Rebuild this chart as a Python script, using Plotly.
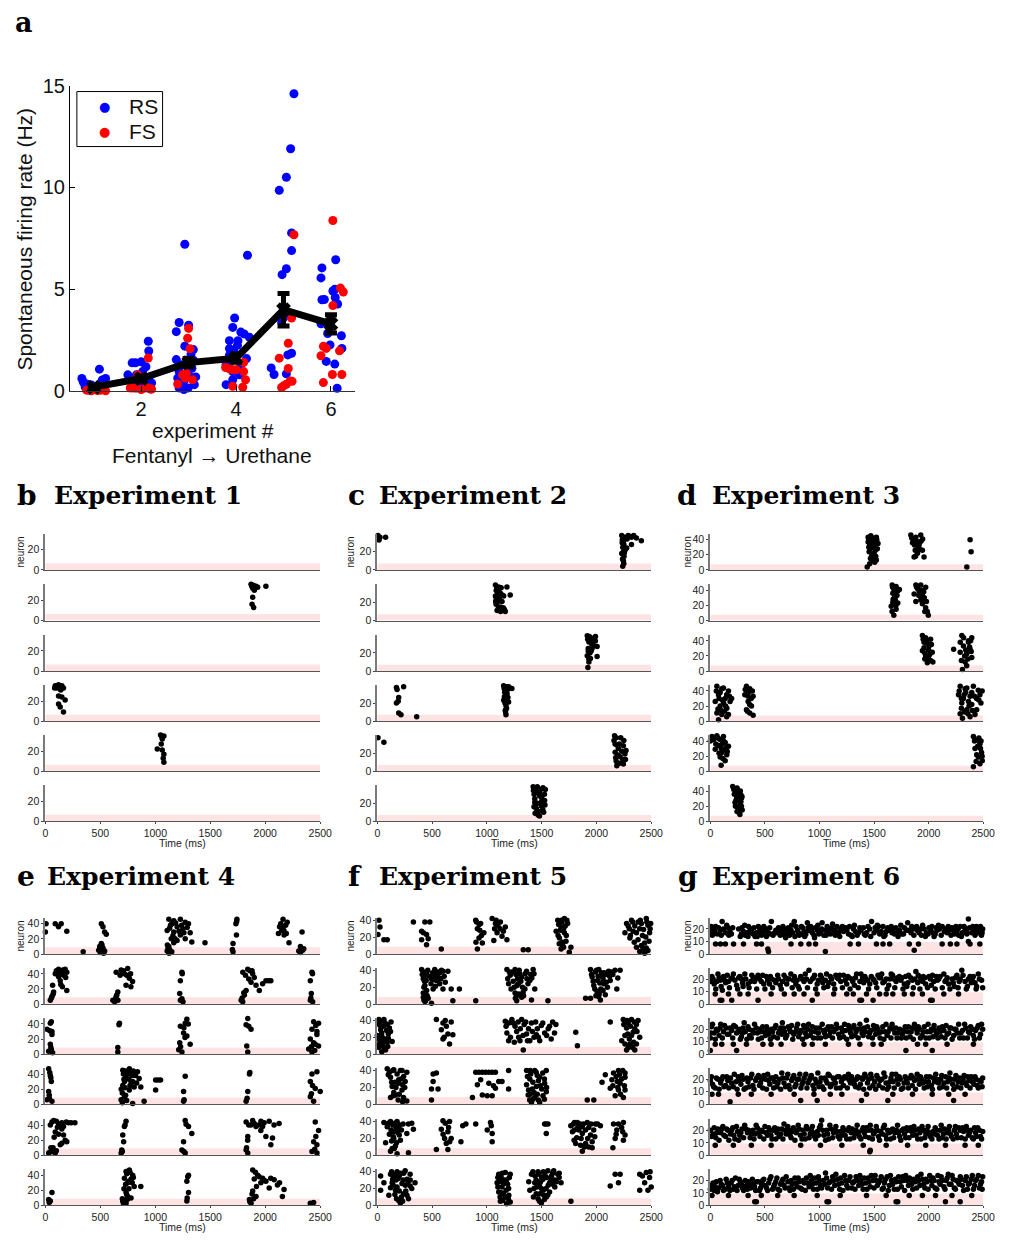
import plotly.graph_objects as go

W, H = 1009, 1243

# ---------------- Panel a data ----------------
RS_X = [0.75, 0.78, 0.82, 0.88, 0.95, 1.05, 1.12, 1.18, 1.22, 1.25, 0.9, 1.1, 0.85, 1.2,
        1.81, 1.88, 2.15, 2.16, 2.0, 1.9, 2.03, 2.06, 2.22, 2.16, 1.81, 1.9, 1.72, 2.1, 1.95, 2.2,
        2.92, 2.8, 2.74, 3.0, 2.92, 3.1, 2.74, 3.1, 2.8, 3.0, 2.9, 3.12, 2.8, 2.99, 2.9, 3.07, 2.77, 3.05, 2.85, 3.15,
        3.97, 3.93, 3.86, 4.04, 4.17, 4.24, 3.86, 4.03, 4.28, 3.79, 3.93, 4.07, 3.79, 3.93, 4.22, 3.86, 4.1, 4.1, 3.95,
        5.22, 5.15, 5.06, 4.91, 5.17, 5.17, 5.06, 4.97, 4.74, 4.8, 5.09, 5.17, 5.06, 4.96, 5.0,
        6.1, 5.81, 5.79, 5.81, 5.86, 6.08, 6.09, 6.14, 6.22, 6.23, 5.93, 5.9, 6.08, 6.13, 6.04, 5.98, 5.79, 6.0, 5.95]
RS_Y = [0.62, 0.45, 0.2, 0.1, 0.3, 0.15, 1.08, 0.55, 0.35, 0.62, 0.05, 0.1, 0.35, 0.15,
        1.39, 1.39, 2.45, 1.97, 1.44, 0.8, 0.96, 0.16, 0.4, 0.64, 0.48, 0.16, 0.8, 1.2, 0.3, 0.1,
        7.21, 3.37, 2.92, 3.24, 2.21, 2.04, 1.55, 1.52, 0.96, 0.8, 0.48, 0.32, 0.16, 0.16, 0.08, 1.12, 0.64, 1.8, 1.3, 0.7,
        3.59, 3.13, 2.48, 2.48, 2.81, 6.67, 2.09, 2.25, 2.65, 1.29, 0.96, 0.8, 0.32, 0.56, 1.6, 1.77, 1.29, 2.9, 2.0,
        14.6, 11.9, 10.5, 9.86, 7.77, 6.9, 6.01, 5.72, 1.14, 0.82, 1.78, 1.86, 0.85, 3.39, 3.6,
        6.45, 6.05, 5.56, 4.49, 4.5, 5.0, 4.6, 4.28, 2.72, 2.1, 2.83, 1.46, 1.33, 0.14, 4.92, 2.27, 3.31, 3.5, 3.2]
FS_X = [0.85, 0.95, 1.15, 1.25, 1.0, 1.08,
        2.15, 1.93, 1.77, 1.88, 2.1, 2.16, 2.0, 1.83, 2.22,
        3.0, 2.98, 3.03, 2.87, 2.93, 2.77, 3.08, 2.95,
        3.78, 3.93, 4.16, 4.16, 4.2, 3.93, 4.14, 4.0, 3.86,
        5.22, 5.17, 5.1, 4.91, 5.1, 4.96, 5.06, 5.14, 5.0, 5.18,
        6.04, 6.2, 6.26, 6.04, 5.84, 5.79, 6.18, 6.03, 6.23, 5.84, 5.9]
FS_Y = [0.05, 0.02, 0.05, 0.02, 0.08, 0.03,
        1.63, 0.8, 0.16, 0.16, 0.16, 0.16, 0.08, 0.15, 0.1,
        3.08, 2.6, 2.08, 0.8, 0.64, 0.35, 0.56, 0.88,
        1.16, 1.05, 1.41, 0.96, 0.56, 0.24, 0.19, 1.05, 1.1,
        7.68, 3.59, 2.35, 1.62, 1.11, 0.18, 0.34, 0.5, 0.26, 0.48,
        8.38, 5.06, 4.87, 4.2, 2.2, 1.74, 1.98, 0.82, 0.82, 0.42, 2.1]
MEAN_X = [1, 2, 3, 4, 5, 6]
MEAN_Y = [0.2, 0.62, 1.4, 1.62, 4.0, 3.3]
MEAN_ERR = [0.08, 0.12, 0.2, 0.2, 0.8, 0.45]
A_XTICKS = [2, 4, 6]
A_YTICKS = [0, 5, 10, 15]
LEGEND_LABELS = ['RS', 'FS']
LEGEND_COLORS = ['#0000FF', '#FF0000']

# ---------------- Raster data: (time ms, neuron) ----------------
B1 = []
B2 = [(1871, 36), (1892, 35), (1916, 34), (1886, 32), (1931, 33), (1901, 30), (2006, 34), (1886, 23),
      (1880, 16), (1895, 13), (1910, 33), (1878, 34)]
B3 = []
B4 = [(84, 33), (90, 35), (105, 33), (120, 36), (135, 32), (150, 35), (165, 33), (195, 37), (120, 25),
      (150, 24), (180, 21), (120, 17), (135, 14), (165, 9), (140, 31)]
B5 = [(1048, 36), (1078, 35), (1063, 32), (1054, 27), (1018, 22), (1063, 21), (1078, 17), (1072, 13),
      (1078, 9), (1060, 34)]
B6 = []

C1 = [(6, 38), (24, 36), (15, 33), (75, 36), (10, 35), (2231, 38), (2246, 35), (2290, 38), (2320, 36),
      (2365, 35), (2410, 32), (2320, 28), (2246, 31), (2240, 25), (2261, 22), (2231, 18), (2252, 15),
      (2246, 10), (2240, 4), (2276, 24), (2236, 33), (2250, 28), (2255, 19), (2300, 37),
      (2235, 30), (2245, 20), (2260, 36), (2280, 34), (2340, 38), (2238, 12), (2250, 7)]
C2 = [(1078, 39), (1108, 37), (1093, 33), (1123, 30), (1078, 27), (1153, 27), (1108, 23), (1183, 37),
      (1213, 28), (1084, 18), (1123, 15), (1093, 11), (1168, 10), (1138, 21), (1090, 36), (1100, 30),
      (1115, 25), (1150, 14), (1080, 21), (1160, 12),
      (1085, 33), (1095, 20), (1110, 34), (1130, 36), (1140, 28), (1105, 14), (1125, 10), (1085, 24)]
C3 = [(1916, 39), (1946, 37), (1991, 38), (1931, 32), (2006, 27), (1952, 22), (1916, 17), (2006, 16),
      (1931, 10), (1922, 4), (1976, 28), (1961, 34), (1925, 25), (1940, 20), (1945, 14), (1920, 35),
      (1935, 38), (1955, 30), (1990, 33), (1925, 22), (1960, 25), (1930, 14)]
C4 = [(174, 37), (240, 38), (195, 26), (174, 20), (195, 9), (216, 7), (359, 5), (180, 35), (190, 22),
      (1153, 39), (1183, 38), (1228, 36), (1162, 32), (1192, 26), (1153, 23), (1174, 17), (1168, 12),
      (1174, 7), (1198, 21), (1170, 37), (1185, 30), (1160, 27), (1180, 14), (1200, 38),
      (1158, 36), (1175, 33), (1190, 35), (1165, 20), (1180, 24), (1170, 10)]
C5 = [(6, 37), (60, 32), (2165, 39), (2222, 37), (2186, 29), (2246, 28), (2171, 21), (2270, 23),
      (2216, 16), (2180, 11), (2246, 8), (2186, 6), (2231, 22), (2170, 30), (2200, 25), (2175, 15),
      (2240, 13), (2260, 19),
      (2160, 34), (2180, 37), (2210, 30), (2250, 34), (2195, 18), (2210, 9), (2265, 13)]
C6 = [(1422, 38), (1452, 37), (1512, 37), (1533, 35), (1431, 30), (1482, 28), (1527, 23), (1437, 21),
      (1497, 17), (1452, 14), (1518, 10), (1467, 7), (1437, 25), (1445, 33), (1470, 31), (1500, 26),
      (1430, 16), (1460, 20), (1510, 13), (1440, 9), (1490, 35),
      (1425, 34), (1460, 38), (1480, 32), (1500, 22), (1525, 30), (1445, 18), (1470, 11), (1530, 18), (1480, 6)]

D1 = [(1446, 43), (1476, 41), (1506, 39), (1521, 43), (1461, 34), (1491, 30), (1455, 24), (1512, 26),
      (1476, 17), (1521, 13), (1506, 10), (1437, 4), (1467, 15), (1536, 35), (1446, 37), (1480, 20),
      (1500, 33), (1470, 45), (1530, 28), (1452, 30), (1495, 12), (1837, 46), (1883, 43), (1928, 46),
      (1852, 36), (1913, 33), (1877, 26), (1943, 26), (1867, 17), (1958, 17), (1898, 22), (1860, 40),
      (1905, 30), (1930, 38), (2380, 40), (2389, 24), (2350, 4),
      (1450, 40), (1465, 28), (1485, 36), (1500, 22), (1515, 18), (1525, 40), (1460, 8), (1490, 42),
      (1845, 42), (1870, 33), (1890, 38), (1920, 27), (1945, 41), (1880, 18)]
D2 = [(1666, 47), (1702, 45), (1717, 39), (1672, 36), (1687, 30), (1672, 24), (1717, 23), (1702, 15),
      (1681, 7), (1732, 41), (1657, 19), (1680, 42), (1695, 27), (1883, 47), (1928, 47), (1973, 44),
      (1913, 39), (1867, 35), (1943, 33), (1883, 25), (1943, 22), (1973, 17), (1988, 12), (1997, 7),
      (1928, 27), (1900, 42), (1960, 30), (1955, 38),
      (1670, 44), (1690, 40), (1710, 33), (1675, 28), (1700, 20), (1665, 12), (1890, 44), (1910, 33),
      (1935, 40), (1950, 27), (1980, 25), (1965, 12)]
D3 = [(1943, 47), (1973, 44), (2018, 42), (1958, 38), (2003, 33), (1943, 27), (2033, 25), (1973, 20),
      (2018, 14), (1988, 11), (2039, 12), (1958, 31), (1990, 36), (2010, 22), (1965, 16), (2229, 29),
      (2304, 47), (2395, 44), (2365, 38), (2319, 33), (2380, 29), (2289, 25), (2349, 23), (2395, 18),
      (2334, 12), (2310, 2), (2349, 7), (2365, 40), (2330, 20), (2375, 32),
      (1950, 42), (1980, 40), (2000, 28), (2025, 35), (1965, 24), (2000, 16), (2290, 38), (2320, 44),
      (2340, 28), (2385, 40), (2360, 16), (2300, 14), (2390, 26)]
D4 = [(60, 46), (105, 43), (166, 40), (75, 35), (136, 30), (45, 26), (181, 26), (90, 20), (151, 17),
      (60, 11), (105, 9), (75, 2), (166, 9), (121, 24), (90, 38), (150, 35), (110, 28), (70, 16),
      (130, 13), (331, 46), (361, 43), (316, 35), (392, 33), (346, 26), (377, 20), (361, 11), (392, 8),
      (331, 15), (350, 38), (375, 30), (2289, 46), (2334, 43), (2410, 46), (2455, 41), (2274, 35),
      (2380, 33), (2440, 30), (2304, 24), (2395, 22), (2479, 24), (2349, 15), (2289, 10), (2425, 9),
      (2365, 26), (2319, 30), (2340, 38), (2470, 35), (2300, 17), (2400, 14), (2360, 10),
      (55, 40), (80, 30), (120, 44), (140, 20), (175, 33), (195, 30), (100, 14), (150, 6), (320, 42),
      (345, 33), (360, 22), (385, 40), (340, 13), (2280, 40), (2300, 30), (2325, 35), (2350, 44),
      (2370, 20), (2395, 38), (2420, 33), (2440, 15), (2460, 28), (2490, 40), (2330, 12), (2380, 6), (2310, 4)]
D5 = [(0, 40), (15, 46), (60, 47), (120, 46), (136, 38), (75, 34), (166, 33), (105, 25), (151, 22),
      (90, 19), (136, 14), (99, 8), (45, 29), (90, 42), (110, 36), (130, 28), (2410, 46), (2440, 41),
      (2470, 36), (2425, 30), (2485, 25), (2455, 19), (2491, 14), (2410, 6), (2470, 10), (2450, 33),
      (2480, 40), (2440, 22),
      (30, 42), (50, 36), (70, 44), (100, 30), (120, 40), (145, 31), (155, 26), (80, 24), (115, 17),
      (2420, 40), (2460, 44), (2475, 30), (2490, 20), (2435, 13)]
D6 = [(205, 46), (232, 41), (262, 37), (241, 33), (286, 31), (226, 25), (271, 22), (256, 18), (292, 15),
      (271, 9), (250, 40), (280, 35), (235, 28), (265, 28), (285, 20), (245, 13),
      (215, 42), (220, 36), (245, 44), (255, 34), (275, 40), (230, 20), (260, 12), (280, 26), (290, 33)]

E1 = [(6, 40), (0, 29), (90, 40), (120, 36), (144, 40), (195, 30), (344, 3),
      (509, 40), (524, 36), (539, 29), (554, 26), (509, 14), (494, 10), (485, 5), (509, 3), (539, 4),
      (524, 8), (500, 2), (520, 6), (530, 1),
      (1123, 46), (1168, 44), (1228, 46), (1272, 42), (1138, 38), (1198, 36), (1302, 40), (1108, 31),
      (1168, 29), (1228, 25), (1272, 20), (1317, 28), (1332, 16), (1168, 15), (1123, 10), (1108, 4),
      (1138, 2), (1198, 18), (1452, 15), (1150, 40), (1250, 33), (1115, 7), (1125, 1),
      (1742, 46), (1733, 40), (1738, 25), (1707, 14), (1701, 6), (1707, 3), (1740, 43),
      (2162, 46), (2141, 40), (2186, 38), (2120, 27), (2171, 25), (2192, 27), (2216, 15), (2150, 31),
      (2160, 35), (2335, 29), (2320, 10), (2305, 4), (2350, 7), (2320, 2), (2340, 5),
      (1130, 34), (1160, 24), (1185, 41), (1215, 30), (1240, 38), (1260, 28), (1290, 35), (1145, 20),
      (1110, 12), (1130, 6), (1180, 20), (1150, 3), (500, 7), (515, 12), (2130, 36), (2170, 31), (2200, 42)]
E2 = [(45, 5), (60, 10), (75, 16), (66, 25), (90, 40), (120, 46), (150, 44), (180, 46), (195, 42),
      (135, 31), (155, 23), (195, 18), (120, 36), (100, 44), (165, 38), (70, 13),
      (614, 5), (644, 10), (659, 16), (644, 42), (689, 45), (749, 47), (719, 40), (764, 34), (793, 30),
      (734, 25), (778, 23), (700, 42), (630, 3), (660, 5),
      (1242, 42), (1228, 31), (1222, 14), (1228, 5), (1252, 3), (1242, 7), (1245, 40),
      (1796, 42), (1841, 46), (1886, 40), (1811, 12), (1781, 5), (1826, 18), (1871, 29), (1916, 25),
      (1946, 18), (1976, 27), (1860, 44), (1790, 8), (1900, 35),
      (2006, 31), (2051, 31), (2030, 31),
      (2425, 42), (2410, 31), (2419, 14), (2410, 5), (2431, 3), (2430, 40), (2415, 8),
      (110, 40), (130, 42), (170, 40), (185, 35), (140, 26), (55, 8), (160, 45), (680, 38), (710, 44),
      (740, 38), (775, 40), (650, 12), (640, 7), (1820, 38), (1850, 33), (1880, 44), (1805, 15), (1795, 3)]
E3 = [(15, 33), (60, 30), (45, 13), (54, 43), (45, 41), (60, 26), (30, 4), (54, 6), (66, 2), (40, 31),
      (50, 9), (674, 41), (659, 9), (659, 3), (670, 39),
      (1228, 37), (1272, 41), (1287, 46), (1257, 28), (1287, 24), (1222, 15), (1213, 6), (1242, 3),
      (1317, 13), (1260, 35), (1230, 10), (1300, 40), (1270, 22),
      (1841, 47), (1826, 39), (1871, 33), (1832, 11), (1841, 3), (1850, 37),
      (2440, 43), (2485, 41), (2425, 33), (2470, 26), (2410, 20), (2455, 13), (2395, 7), (2425, 3),
      (2485, 11), (2460, 38), (2440, 15), (2470, 30), (2420, 10), (2450, 5)]
E4 = [(30, 47), (45, 38), (54, 30), (30, 17), (15, 6), (60, 4), (36, 8), (40, 42), (50, 35), (35, 12),
      (704, 45), (764, 47), (838, 43), (734, 37), (794, 30), (704, 25), (764, 19), (808, 23), (719, 10),
      (689, 6), (794, 1), (898, 4), (853, 34), (868, 23), (1003, 19), (750, 40), (780, 28), (720, 30),
      (700, 15), (740, 5), (820, 38), (1003, 32), (1048, 32), (1025, 32),
      (1272, 37), (1257, 17), (1257, 4), (1262, 6), (1856, 40), (1841, 17), (1826, 4), (1860, 42),
      (1835, 8), (2425, 40), (2470, 43), (2410, 30), (2455, 21), (2410, 10), (2440, 4), (2500, 17),
      (2430, 25), (2420, 14),
      (710, 40), (730, 44), (760, 42), (790, 38), (800, 44), (715, 33), (760, 33), (830, 28), (690, 20),
      (730, 12), (700, 2), (770, 25), (810, 40), (725, 22)]
E5 = [(45, 40), (75, 46), (120, 42), (150, 43), (210, 43), (269, 43), (90, 31), (165, 27), (195, 18),
      (135, 14), (60, 7), (30, 3), (90, 3), (180, 20), (50, 10), (70, 5), (110, 37), (150, 35), (40, 4),
      (734, 45), (719, 38), (704, 27), (712, 18), (695, 7), (689, 3), (700, 5), (725, 40),
      (1272, 46), (1302, 38), (1332, 29), (1257, 18), (1242, 7), (1272, 3), (1260, 5), (1280, 41),
      (1826, 44), (1886, 46), (1961, 45), (2036, 45), (2126, 42), (1916, 38), (1976, 38), (2006, 25),
      (2066, 23), (1841, 25), (1826, 7), (1841, 3), (2051, 14), (1850, 40), (1900, 42), (1830, 10),
      (2455, 44), (2485, 33), (2440, 18), (2470, 14), (2425, 5), (2470, 3), (2460, 25), (2450, 8),
      (60, 44), (100, 45), (130, 40), (165, 38), (190, 44), (235, 43), (80, 24), (120, 28), (150, 16),
      (70, 10), (100, 6), (1870, 40), (1940, 40), (1990, 43), (2080, 40), (1840, 20), (1960, 33)]
E6 = [(30, 8), (60, 17), (45, 6), (35, 4),
      (734, 45), (764, 47), (794, 40), (719, 36), (749, 30), (808, 25), (734, 17), (779, 10), (704, 6),
      (734, 3), (868, 25), (749, 12), (720, 5), (745, 8), (780, 35), (760, 22), (710, 3),
      (1302, 40), (1287, 32), (1302, 17), (1287, 6), (1295, 38), (1290, 10),
      (1886, 47), (1931, 40), (1976, 36), (2006, 32), (2081, 34), (2111, 27), (2171, 21), (2156, 12),
      (1886, 19), (1856, 8), (1871, 3), (1916, 12), (2036, 23), (1900, 35), (1960, 30), (1880, 15),
      (1860, 5), (2410, 3), (2440, 4),
      (740, 42), (770, 44), (800, 37), (730, 28), (760, 32), (790, 30), (715, 22), (740, 14), (700, 9),
      (1910, 44), (1945, 38), (1990, 33), (2050, 36), (2130, 30), (1920, 25), (1895, 9)]

F1 = [(15, 40), (24, 32), (6, 23), (60, 17), (90, 17), (329, 38), (434, 38), (479, 38), (404, 27),
      (449, 23), (404, 17), (464, 18), (449, 11), (584, 6), (420, 25),
      (898, 40), (943, 36), (913, 30), (973, 25), (928, 19), (958, 13), (913, 6), (1048, 42), (1078, 36),
      (1123, 38), (1168, 32), (1093, 25), (1138, 21), (1183, 17), (1063, 16), (905, 38), (935, 28),
      (1085, 40), (1120, 30), (1332, 5), (1377, 5),
      (1647, 40), (1707, 42), (1737, 36), (1677, 32), (1632, 27), (1707, 25), (1662, 19), (1722, 15),
      (1692, 10), (1767, 8), (1752, 2), (1677, 6), (1680, 40), (1700, 30), (1650, 22), (1690, 14),
      (2275, 36), (2320, 40), (2380, 38), (2455, 42), (2260, 25), (2335, 27), (2395, 30), (2485, 25),
      (2305, 19), (2380, 17), (2440, 13), (2365, 8), (2425, 6), (2470, 4), (2395, 3), (2470, 34),
      (2420, 22), (2350, 33), (2480, 15), (2440, 1), (2410, 36), (2300, 30),
      (1655, 35), (1670, 28), (1685, 38), (1715, 33), (1725, 22), (1660, 12), (1700, 8), (1730, 40),
      (2290, 33), (2310, 22), (2330, 38), (2365, 25), (2400, 40), (2430, 29), (2460, 38), (2490, 30),
      (2345, 14), (2410, 10), (2455, 7), (2450, 20), (2495, 36), (1100, 34), (1150, 27), (1070, 30),
      (930, 35), (950, 22), (900, 14)]
F2 = [(404, 41), (449, 37), (524, 41), (569, 37), (599, 39), (419, 30), (494, 30), (539, 28), (644, 39),
      (434, 22), (509, 18), (599, 18), (419, 13), (464, 7), (434, 3), (674, 18), (749, 18), (494, 1),
      (689, 4), (898, 4), (569, 24), (420, 38), (440, 34), (430, 27), (450, 16), (420, 8), (440, 4),
      (520, 35), (545, 33), (580, 30),
      (1183, 41), (1257, 41), (1362, 39), (1422, 41), (1213, 34), (1317, 32), (1392, 28), (1198, 24),
      (1287, 24), (1347, 18), (1437, 18), (1257, 13), (1317, 8), (1272, 4), (1407, 5), (1557, 4),
      (1230, 38), (1300, 36), (1280, 30), (1250, 20), (1330, 14), (1270, 10), (1400, 35),
      (1946, 41), (2021, 41), (2111, 39), (2216, 40), (1961, 32), (2051, 33), (2126, 28), (1976, 22),
      (2066, 24), (2186, 18), (2006, 15), (2036, 5), (1901, 7), (1946, 7), (2081, 11), (1990, 38),
      (2070, 37), (2150, 35), (2010, 28), (2040, 18), (2100, 20), (2020, 9),
      (410, 35), (425, 20), (445, 28), (460, 40), (475, 33), (490, 24), (505, 37), (515, 29), (530, 21),
      (555, 38), (565, 31), (585, 40), (610, 33), (620, 26), (440, 12), (455, 10), (425, 5),
      (1190, 30), (1205, 38), (1220, 18), (1240, 27), (1265, 35), (1275, 22), (1295, 40), (1310, 27),
      (1325, 20), (1350, 36), (1365, 30), (1375, 24), (1410, 31), (1430, 36), (1260, 7), (1290, 12),
      (1335, 10), (1955, 35), (1970, 27), (1985, 18), (2000, 40), (2015, 33), (2030, 25), (2045, 37),
      (2060, 30), (2085, 35), (2090, 26), (2120, 33), (2140, 38), (2170, 40), (2195, 31), (1995, 10),
      (2025, 12), (2060, 16)]
F3 = [(15, 41), (60, 41), (90, 35), (30, 29), (120, 27), (0, 22), (45, 20), (90, 14), (15, 8), (75, 5),
      (135, 15), (30, 39), (60, 33), (100, 24), (20, 17), (50, 10), (110, 31), (40, 3), (80, 18),
      (539, 41), (599, 37), (674, 38), (584, 29), (644, 24), (599, 18), (659, 12), (689, 23), (620, 40),
      (630, 33), (610, 20),
      (1168, 39), (1228, 41), (1317, 41), (1407, 37), (1497, 34), (1572, 33), (1183, 25), (1272, 27),
      (1362, 24), (1452, 23), (1527, 25), (1617, 25), (1198, 16), (1302, 16), (1392, 16), (1482, 16),
      (1587, 18), (1332, 5), (1257, 33), (1200, 37), (1340, 35), (1380, 30), (1430, 20), (1290, 20),
      (1250, 14), (1460, 30), (1811, 26), (1826, 10), (2126, 38),
      (2245, 41), (2320, 41), (2365, 35), (2275, 31), (2335, 26), (2231, 16), (2305, 12), (2275, 5),
      (2350, 5), (2395, 20), (2260, 22), (2290, 37), (2350, 30), (2300, 18), (2330, 8), (2260, 12),
      (2380, 40),
      (5, 36), (25, 34), (40, 25), (70, 37), (85, 28), (100, 19), (125, 38), (55, 15), (20, 12), (65, 8),
      (95, 9), (1175, 33), (1215, 20), (1240, 37), (1285, 38), (1305, 30), (1330, 22), (1355, 38),
      (1370, 16), (1415, 27), (1445, 38), (1470, 20), (1510, 37), (1545, 22), (1560, 30), (1600, 38),
      (1630, 35), (2250, 35), (2280, 40), (2310, 33), (2345, 38), (2370, 27), (2285, 24), (2320, 22),
      (2340, 14), (2290, 8), (2365, 12)]
F4 = [(90, 42), (150, 41), (225, 40), (269, 38), (120, 32), (195, 29), (254, 27), (135, 21), (225, 17),
      (165, 11), (239, 8), (269, 4), (120, 8), (195, 25), (110, 38), (180, 36), (240, 33), (150, 14),
      (200, 12), (130, 26), (250, 20),
      (509, 36), (539, 37), (509, 27), (494, 18), (554, 18), (494, 5),
      (898, 38), (958, 38), (1018, 38), (1078, 38), (1198, 40), (943, 29), (1018, 25), (1108, 27),
      (1138, 27), (913, 23), (1078, 19), (1198, 18), (958, 11), (1048, 10), (868, 8), (1003, 10),
      (928, 38), (988, 38), (1048, 38), (1060, 22),
      (1362, 40), (1437, 40), (1542, 40), (1392, 30), (1482, 32), (1362, 23), (1452, 21), (1527, 25),
      (1377, 11), (1437, 8), (1512, 10), (1407, 2), (1482, 2), (1542, 15), (1400, 36), (1460, 34),
      (1380, 17), (1420, 26), (1500, 18), (1390, 5), (1460, 12), (1916, 5), (1976, 5),
      (2081, 35), (2156, 37), (2201, 40), (2261, 37), (2141, 29), (2216, 25), (2261, 32), (2126, 19),
      (2201, 17), (2261, 17), (2171, 10), (2246, 8), (2051, 26), (2180, 33), (2230, 30), (2150, 22),
      (100, 35), (140, 40), (160, 26), (210, 40), (230, 23), (170, 20), (215, 30), (145, 10), (190, 5),
      (230, 3), (1370, 33), (1395, 40), (1415, 18), (1430, 14), (1450, 38), (1470, 28), (1490, 22),
      (1510, 37), (1525, 30), (1545, 20), (1395, 12), (1420, 6), (1470, 5), (1525, 6),
      (2190, 27), (2210, 35), (2240, 40), (2255, 22), (2220, 12), (2195, 20)]
F5 = [(60, 39), (120, 40), (180, 40), (90, 34), (150, 28), (195, 31), (284, 37), (314, 38), (329, 31),
      (75, 15), (150, 20), (210, 18), (120, 5), (180, 2), (284, 3), (269, 26), (165, 11), (100, 38),
      (140, 36), (170, 33), (110, 25), (130, 17), (155, 8), (200, 24),
      (599, 41), (659, 40), (584, 31), (644, 28), (614, 20), (674, 20), (629, 14), (644, 7), (539, 7),
      (763, 16), (779, 35), (808, 37), (898, 37), (620, 38), (650, 33), (600, 25), (660, 16),
      (1033, 39), (1048, 26), (1048, 16), (1003, 30), (1040, 35),
      (1527, 37), (1557, 37), (1542, 26), (1540, 37),
      (1766, 35), (1826, 39), (1916, 39), (1991, 37), (2036, 35), (1781, 28), (1871, 26), (1946, 24),
      (1796, 18), (1901, 14), (1961, 16), (1871, 5), (1961, 9), (1790, 37), (1850, 37), (1880, 37),
      (1950, 37), (1840, 30), (1900, 30), (1820, 21), (1920, 20), (1890, 10), (1800, 30),
      (2156, 37), (2246, 39), (2186, 30), (2261, 24), (2171, 20), (2246, 18), (2150, 9), (2200, 37),
      (2230, 33), (2180, 25), (2240, 28),
      (125, 30), (145, 22), (160, 38), (185, 27), (205, 36), (220, 30), (135, 8), (175, 15), (235, 37),
      (1800, 39), (1830, 33), (1860, 20), (1870, 34), (1930, 33), (1975, 30), (2010, 37), (1810, 14),
      (1855, 12), (1930, 10), (1985, 22)]
F6 = [(30, 35), (60, 27), (30, 18), (120, 37), (180, 40), (254, 41), (299, 37), (344, 27), (135, 27),
      (225, 26), (165, 18), (239, 14), (195, 6), (284, 8), (314, 20), (210, 3), (105, 12), (150, 33),
      (200, 35), (270, 31), (180, 22), (220, 10), (260, 17), (170, 30), (240, 38), (300, 30), (120, 21),
      (160, 13),
      (1108, 37), (1168, 39), (1213, 37), (1093, 27), (1153, 26), (1198, 20), (1108, 16), (1168, 10),
      (1123, 5), (1213, 4), (1138, 22), (1130, 33), (1180, 30), (1100, 22), (1150, 14), (1200, 12),
      (1120, 10), (1180, 2),
      (1407, 37), (1467, 40), (1557, 41), (1647, 37), (1437, 27), (1512, 31), (1572, 27), (1677, 27),
      (1392, 18), (1497, 20), (1572, 16), (1467, 8), (1542, 10), (1497, 3), (1382, 28), (1767, 5),
      (1440, 35), (1530, 36), (1600, 38), (1620, 30), (1480, 25), (1540, 20), (1620, 22), (1450, 14),
      (1520, 12), (1590, 35), (1660, 33), (1500, 33), (1430, 20),
      (2126, 23), (2171, 37), (2216, 37), (2201, 27),
      (2395, 37), (2455, 39), (2485, 33), (2440, 27), (2500, 22), (2395, 18), (2470, 18), (2420, 35),
      (2490, 40),
      (130, 40), (160, 37), (190, 32), (215, 38), (235, 30), (255, 24), (280, 28), (145, 24), (175, 8),
      (200, 17), (230, 5), (270, 12), (300, 23), (140, 31),
      (1100, 33), (1115, 28), (1140, 38), (1160, 30), (1175, 18), (1190, 25), (1205, 33), (1130, 15),
      (1145, 6), (1195, 8),
      (1420, 40), (1450, 30), (1475, 37), (1490, 28), (1515, 40), (1545, 33), (1560, 24), (1585, 30),
      (1610, 41), (1635, 28), (1660, 38), (1455, 22), (1485, 14), (1515, 18), (1555, 12), (1600, 25),
      (1425, 10), (1480, 5), (1525, 7)]

G1 = [(3, 18), (33, 20), (63, 16), (93, 19), (108, 26), (138, 17), (162, 21), (193, 16), (205, 21),
      (274, 14), (304, 18), (334, 17), (364, 19), (394, 16), (424, 17), (454, 20), (484, 17), (514, 14),
      (544, 21), (559, 26), (589, 17), (625, 21), (649, 19), (679, 15), (709, 17), (739, 19), (769, 26),
      (799, 19), (829, 16), (859, 18), (889, 25), (904, 19), (934, 17), (964, 21), (994, 16), (1024, 25),
      (1054, 19), (1084, 17), (1114, 21), (1144, 15), (1131, 19), (1176, 17), (1221, 18), (1266, 16),
      (1311, 20), (1357, 17), (1402, 21), (1432, 17), (1477, 26), (1522, 19), (1552, 16), (1582, 22),
      (1612, 18), (1657, 22), (1688, 16), (1733, 19), (1778, 21), (1808, 25), (1838, 17), (1877, 21),
      (1913, 17), (1958, 20), (2003, 21), (2039, 17), (2079, 19), (2124, 22), (2169, 17), (2214, 21),
      (2259, 18), (2289, 22), (2334, 20), (2364, 28), (2394, 17), (2439, 22), (2469, 19), (2484, 15),
      (18, 15), (48, 22), (120, 20), (180, 18), (290, 21), (320, 15), (350, 22), (380, 20), (410, 14),
      (440, 22), (470, 15), (500, 19), (530, 17), (575, 15), (610, 17), (665, 22), (695, 20), (725, 15),
      (755, 17), (785, 22), (815, 15), (845, 21), (875, 16), (920, 22), (950, 15), (980, 19), (1010, 18),
      (1040, 15), (1070, 22), (1100, 16), (1160, 22), (1195, 20), (1240, 21), (1290, 15), (1330, 18),
      (1380, 19), (1420, 15), (1460, 20), (1500, 17), (1540, 22), (1600, 15), (1640, 19), (1675, 20),
      (1710, 17), (1755, 16), (1795, 19), (1855, 20), (1895, 19), (1935, 15), (1980, 17), (2020, 19),
      (2060, 16), (2100, 20), (2145, 18), (2190, 19), (2235, 16), (2275, 15), (2310, 17), (2350, 16),
      (2415, 19), (2455, 17), (2495, 20),
      (48, 8), (93, 8), (138, 8), (213, 8), (304, 8), (424, 8), (469, 8), (739, 8), (829, 8), (904, 8),
      (964, 8), (1281, 8), (1357, 8), (1522, 8), (1582, 8), (1643, 8), (1823, 8), (1907, 8), (2124, 8),
      (2199, 8), (2259, 8), (2379, 8), (2469, 8),
      (527, 4), (533, 2), (1054, 2), (1868, 3), (2364, 10)]
G1X = [(8, 22), (40, 18), (75, 21), (100, 15), (150, 23), (170, 15), (260, 20), (285, 16), (315, 23),
       (345, 14), (375, 17), (400, 21), (430, 14), (460, 18), (490, 22), (520, 20), (550, 16), (600, 19),
       (640, 15), (660, 18), (690, 13), (715, 21), (745, 23), (775, 14), (805, 17), (835, 22), (865, 14),
       (895, 21), (925, 19), (955, 13), (985, 23), (1020, 20), (1060, 15), (1090, 20), (1120, 24),
       (1150, 18), (1185, 14), (1210, 22), (1250, 19), (1275, 22), (1300, 14), (1320, 23), (1345, 15),
       (1370, 21), (1410, 16), (1445, 22), (1470, 14), (1510, 21), (1530, 23), (1565, 18), (1590, 14),
       (1625, 21), (1665, 17), (1700, 21), (1720, 14), (1745, 23), (1770, 16), (1815, 19), (1845, 22),
       (1865, 15), (1890, 22), (1925, 20), (1945, 23), (1970, 14), (1995, 16), (2030, 22), (2050, 14),
       (2070, 21), (2090, 23), (2115, 15), (2155, 20), (2180, 22), (2205, 15), (2225, 19), (2250, 22),
       (2270, 20), (2300, 14), (2325, 22), (2345, 19), (2375, 21), (2405, 22), (2425, 15), (2445, 18),
       (2475, 22), (2490, 17)]
G2 = [(15, 22), (60, 18), (99, 14), (120, 22), (166, 18), (211, 24), (241, 15), (286, 20), (316, 24),
      (346, 16), (392, 20), (437, 23), (467, 18), (512, 22), (542, 16), (587, 19), (617, 23), (663, 18),
      (708, 20), (738, 24), (783, 16), (828, 22), (858, 18), (904, 27), (934, 20), (979, 16), (1009, 23),
      (1054, 19), (1099, 22), (1130, 16), (1175, 20), (1220, 23), (1250, 16), (1295, 20), (1340, 24),
      (1370, 18), (1416, 22), (1461, 16), (1491, 20), (1536, 23), (1581, 17), (1611, 20), (1657, 24),
      (1702, 18), (1732, 22), (1777, 16), (1816, 23), (1852, 19), (1883, 26), (1928, 20), (1973, 16),
      (2003, 22), (2048, 18), (2093, 20), (2139, 24), (2184, 16), (2214, 20), (2259, 23), (2304, 27),
      (2334, 18), (2379, 22), (2425, 17), (2455, 24), (2485, 19),
      (35, 16), (80, 21), (140, 17), (190, 20), (260, 21), (300, 14), (370, 18), (415, 21), (490, 16),
      (560, 20), (640, 15), (690, 21), (760, 19), (805, 14), (880, 20), (955, 23), (1030, 17), (1075, 14),
      (1150, 23), (1195, 18), (1270, 21), (1320, 15), (1395, 21), (1440, 19), (1515, 17), (1560, 21),
      (1635, 15), (1680, 20), (1755, 21), (1800, 14), (1900, 17), (1950, 22), (2025, 15), (2070, 22),
      (2160, 19), (2235, 14), (2280, 18), (2355, 14), (2400, 20), (2440, 14),
      (45, 8), (166, 8), (271, 8), (346, 8), (557, 8), (678, 8), (768, 8), (858, 8), (979, 8), (1130, 8),
      (1250, 8), (1310, 8), (1431, 8), (1551, 8), (1611, 8), (1672, 8), (1777, 8), (1852, 8), (1943, 8),
      (2139, 8), (2274, 8),
      (90, 3), (105, 3), (196, 3), (437, 3), (934, 3), (1370, 3), (1385, 3), (1491, 3), (2018, 3), (2033, 3)]
G2X = [(5, 18), (25, 20), (50, 12), (70, 24), (90, 19), (110, 11), (130, 19), (155, 23), (175, 13),
       (200, 21), (225, 19), (250, 12), (270, 22), (295, 17), (325, 20), (355, 13), (380, 23), (405, 18),
       (425, 12), (450, 20), (480, 23), (500, 12), (525, 19), (550, 22), (570, 13), (600, 17), (625, 20),
       (650, 12), (675, 23), (700, 16), (720, 20), (750, 13), (770, 22), (795, 19), (815, 12), (840, 20),
       (870, 24), (890, 13), (915, 18), (945, 21), (965, 12), (990, 19), (1020, 21), (1040, 13), (1065, 24),
       (1085, 17), (1110, 20), (1140, 12), (1160, 21), (1185, 23), (1210, 13), (1235, 19), (1260, 22),
       (1280, 12), (1305, 18), (1330, 21), (1355, 13), (1380, 24), (1405, 17), (1425, 20), (1450, 12),
       (1475, 22), (1500, 19), (1525, 13), (1548, 21), (1570, 24), (1595, 18), (1620, 12), (1645, 20),
       (1670, 23), (1690, 13), (1715, 21), (1745, 19), (1765, 12), (1790, 22), (1810, 17), (1835, 21),
       (1860, 13), (1875, 20), (1905, 23), (1920, 12), (1945, 18), (1965, 21), (1990, 13), (2015, 20),
       (2035, 23), (2060, 12), (2080, 19), (2105, 22), (2125, 13), (2150, 18), (2170, 21), (2195, 12),
       (2225, 17), (2245, 21), (2270, 13), (2290, 20), (2315, 23), (2345, 12), (2365, 20), (2390, 17),
       (2410, 22), (2435, 12), (2465, 20), (2495, 13)]
G3 = [(0, 13), (10, 22), (35, 17), (55, 20), (80, 15), (95, 24), (120, 18), (145, 21), (170, 16),
      (195, 19), (215, 23), (240, 17), (265, 20), (285, 14), (300, 21), (320, 18), (345, 22), (360, 15),
      (385, 19), (405, 24), (430, 17), (450, 20), (470, 13), (490, 18), (515, 22), (535, 16), (560, 20),
      (580, 14), (600, 23), (625, 17), (645, 21), (660, 25), (680, 18), (700, 15), (725, 20), (745, 23),
      (765, 16), (790, 21), (810, 14), (830, 19), (855, 23), (870, 17), (890, 20), (915, 15), (935, 22),
      (960, 18), (980, 13), (1000, 21), (1025, 24), (1045, 17), (1065, 20), (1090, 15), (1110, 22),
      (1130, 18), (1155, 24), (1175, 16), (1200, 21), (1220, 14), (1240, 19), (1265, 23), (1285, 17),
      (1305, 21), (1325, 15), (1345, 20), (1370, 24), (1390, 17), (1410, 21), (1430, 27), (1450, 14),
      (1470, 19), (1495, 23), (1515, 16), (1535, 20), (1555, 13), (1580, 22), (1600, 18), (1620, 15),
      (1645, 21), (1665, 24), (1690, 17), (1710, 13), (1735, 20), (1760, 16), (1785, 22), (1805, 18),
      (1830, 14), (1850, 21), (1870, 24), (1895, 17), (1915, 20), (1940, 15), (1960, 22), (1985, 18),
      (2005, 13), (2025, 20), (2050, 23), (2070, 16), (2095, 21), (2115, 14), (2140, 19), (2160, 23),
      (2185, 17), (2205, 21), (2230, 15), (2250, 20), (2275, 24), (2295, 17), (2320, 13), (2340, 21),
      (2365, 18), (2385, 22), (2410, 15), (2430, 19), (2455, 23), (2475, 16), (2495, 20),
      (45, 8), (105, 8), (211, 8), (331, 8), (482, 8), (557, 8), (648, 8), (858, 8), (934, 8), (1054, 8),
      (1265, 8), (1370, 8), (1491, 8), (1566, 8), (1898, 8), (1973, 8), (2169, 8), (2410, 8),
      (0, 3), (241, 3), (1792, 3), (2033, 3)]
G3X = [(5, 17), (20, 24), (45, 12), (65, 19), (90, 21), (110, 13), (130, 23), (155, 16), (180, 21),
       (205, 13), (230, 22), (255, 18), (275, 12), (295, 17), (310, 25), (335, 12), (355, 20), (375, 13),
       (395, 17), (420, 21), (440, 12), (460, 18), (480, 22), (505, 15), (525, 19), (550, 12), (570, 18),
       (590, 21), (615, 13), (635, 19), (655, 16), (670, 21), (690, 13), (715, 22), (735, 18), (755, 12),
       (780, 18), (800, 24), (820, 17), (845, 12), (865, 21), (880, 14), (900, 24), (925, 18), (945, 13),
       (970, 21), (990, 17), (1010, 13), (1035, 19), (1055, 14), (1080, 22), (1100, 18), (1120, 13),
       (1145, 20), (1165, 21), (1185, 13), (1210, 18), (1230, 24), (1250, 12), (1275, 20), (1295, 14),
       (1315, 23), (1335, 18), (1355, 13), (1380, 20), (1400, 15), (1420, 18), (1440, 22), (1460, 17),
       (1485, 13), (1505, 20), (1525, 22), (1545, 17), (1570, 18), (1590, 12), (1610, 24), (1630, 18),
       (1655, 13), (1675, 20), (1700, 21), (1720, 17), (1750, 13), (1770, 19), (1795, 13), (1815, 22),
       (1840, 18), (1860, 12), (1885, 20), (1905, 22), (1925, 13), (1950, 18), (1975, 13), (1995, 24),
       (2015, 18), (2040, 14), (2060, 19), (2085, 13), (2105, 18), (2125, 22), (2150, 13), (2170, 16),
       (2195, 21), (2215, 12), (2240, 20), (2260, 17), (2285, 13), (2310, 19), (2330, 24), (2355, 13),
       (2375, 17), (2400, 20), (2420, 12), (2445, 21), (2465, 13), (2485, 24)]
G4 = [(0, 19), (20, 16), (45, 13), (70, 20), (95, 17), (115, 22), (140, 15), (160, 19), (185, 21),
      (210, 14), (235, 18), (255, 22), (280, 16), (300, 20), (325, 13), (345, 18), (370, 21), (390, 15),
      (415, 19), (440, 23), (460, 17), (480, 13), (505, 20), (525, 24), (545, 16), (570, 21), (590, 18),
      (610, 14), (635, 20), (655, 25), (675, 17), (700, 21), (720, 15), (745, 19), (765, 23), (785, 16),
      (810, 20), (830, 13), (850, 18), (875, 24), (895, 17), (915, 21), (940, 15), (960, 20), (985, 25),
      (1005, 18), (1025, 14), (1050, 21), (1070, 17), (1090, 23), (1115, 16), (1135, 20), (1155, 13),
      (1180, 22), (1200, 18), (1220, 15), (1245, 21), (1265, 24), (1285, 17), (1310, 19), (1330, 14),
      (1350, 22), (1375, 16), (1395, 20), (1415, 24), (1440, 17), (1460, 13), (1480, 21), (1505, 18),
      (1525, 23), (1545, 15), (1570, 20), (1590, 25), (1610, 17), (1635, 14), (1655, 21), (1675, 18),
      (1700, 24), (1720, 16), (1740, 20), (1765, 13), (1785, 22), (1805, 17), (1830, 21), (1850, 15),
      (1870, 19), (1895, 24), (1915, 16), (1935, 20), (1960, 13), (1980, 22), (2000, 18), (2025, 15),
      (2045, 21), (2065, 24), (2090, 17), (2110, 20), (2130, 14), (2155, 22), (2175, 18), (2195, 25),
      (2220, 16), (2240, 20), (2260, 14), (2285, 21), (2305, 17), (2325, 23), (2350, 15), (2370, 19),
      (2390, 22), (2415, 16), (2435, 20), (2455, 13), (2480, 18), (2495, 21),
      (15, 8), (75, 8), (256, 8), (376, 8), (557, 8), (768, 8), (949, 8), (1099, 8), (1205, 8), (1431, 8),
      (1672, 8), (1852, 8), (2033, 8), (2184, 8), (2334, 8),
      (181, 2), (828, 3), (979, 3), (1385, 3), (1626, 3), (2229, 3)]
G4X = [(10, 22), (30, 14), (55, 21), (80, 12), (105, 20), (125, 14), (150, 22), (170, 13), (195, 17),
       (220, 24), (245, 12), (265, 19), (290, 23), (310, 12), (335, 21), (355, 14), (380, 24), (400, 12),
       (425, 21), (450, 15), (470, 20), (490, 23), (515, 12), (535, 19), (555, 21), (580, 13), (600, 22),
       (620, 17), (645, 12), (665, 21), (690, 14), (710, 24), (730, 12), (755, 21), (775, 14), (795, 20),
       (820, 24), (840, 16), (860, 21), (885, 13), (905, 19), (925, 23), (950, 12), (970, 17), (995, 14),
       (1015, 21), (1040, 12), (1060, 19), (1080, 24), (1100, 14), (1125, 21), (1145, 17), (1165, 22),
       (1190, 13), (1210, 20), (1230, 22), (1255, 13), (1275, 19), (1295, 22), (1320, 16), (1340, 20),
       (1360, 13), (1385, 21), (1405, 12), (1425, 22), (1450, 20), (1470, 24), (1490, 15), (1515, 12),
       (1535, 21), (1555, 19), (1580, 13), (1600, 22), (1620, 12), (1645, 18), (1665, 24), (1685, 13),
       (1710, 20), (1730, 22), (1750, 12), (1775, 17), (1795, 20), (1815, 13), (1840, 23), (1860, 21),
       (1880, 12), (1905, 20), (1925, 22), (1945, 17), (1970, 18), (1990, 14), (2010, 22), (2035, 12),
       (2055, 18), (2075, 20), (2100, 13), (2120, 23), (2140, 17), (2165, 13), (2185, 21), (2205, 20),
       (2230, 12), (2250, 23), (2270, 18), (2295, 13), (2315, 20), (2335, 17), (2360, 22), (2380, 13),
       (2400, 18), (2425, 22), (2445, 15), (2465, 19), (2490, 14)]
G5 = [(0, 20), (25, 17), (50, 14), (70, 21), (95, 18), (115, 23), (140, 15), (160, 20), (185, 17),
      (205, 22), (225, 13), (250, 19), (270, 16), (290, 21), (315, 24), (340, 18), (365, 14), (390, 20),
      (410, 17), (430, 22), (455, 15), (480, 19), (500, 23), (525, 16), (545, 20), (565, 13), (590, 22),
      (610, 18), (630, 15), (655, 21), (675, 25), (695, 17), (720, 20), (740, 14), (760, 22), (785, 18),
      (805, 24), (825, 16), (850, 20), (870, 13), (890, 21), (915, 17), (935, 23), (955, 15), (980, 19),
      (1000, 22), (1020, 28), (1040, 16), (1065, 20), (1085, 13), (1105, 21), (1130, 18), (1150, 23),
      (1170, 15), (1195, 19), (1215, 22), (1235, 16), (1260, 20), (1280, 13), (1300, 21), (1325, 17),
      (1345, 24), (1365, 15), (1390, 20), (1410, 18), (1430, 22), (1455, 14), (1475, 20), (1495, 17),
      (1520, 23), (1540, 15), (1560, 19), (1585, 22), (1605, 16), (1625, 20), (1650, 13), (1670, 21),
      (1690, 18), (1715, 24), (1735, 15), (1755, 20), (1780, 17), (1800, 22), (1820, 14), (1845, 19),
      (1865, 23), (1885, 16), (1910, 21), (1930, 13), (1950, 20), (1975, 17), (1995, 23), (2015, 15),
      (2040, 19), (2060, 22), (2080, 16), (2105, 20), (2125, 14), (2145, 21), (2170, 18), (2190, 23),
      (2210, 15), (2235, 20), (2255, 17), (2275, 22), (2300, 14), (2320, 19), (2345, 23), (2365, 16),
      (2385, 20), (2410, 13), (2430, 18), (2450, 22), (2475, 15), (2495, 19),
      (45, 8), (211, 8), (376, 8), (557, 8), (828, 8), (1009, 8), (1205, 8), (1401, 8), (1611, 8),
      (1807, 8), (1973, 8), (2154, 8), (2334, 8), (2455, 8),
      (1461, 3), (1465, 4)]
G5X = [(10, 15), (35, 22), (60, 18), (80, 12), (105, 21), (125, 16), (150, 21), (170, 12), (195, 20),
       (215, 16), (240, 23), (260, 12), (280, 18), (305, 14), (325, 21), (350, 20), (375, 17), (400, 13),
       (420, 24), (440, 18), (465, 20), (490, 13), (510, 18), (535, 22), (555, 16), (575, 20), (600, 13),
       (620, 21), (645, 17), (665, 13), (685, 20), (710, 23), (730, 16), (750, 19), (775, 12), (795, 20),
       (815, 21), (840, 13), (860, 17), (880, 23), (905, 14), (925, 20), (945, 18), (965, 13), (990, 16),
       (1010, 24), (1030, 20), (1055, 12), (1075, 17), (1095, 24), (1120, 14), (1140, 20), (1160, 19),
       (1185, 13), (1205, 16), (1225, 20), (1250, 13), (1270, 22), (1290, 18), (1315, 14), (1335, 20),
       (1355, 18), (1380, 13), (1400, 22), (1420, 15), (1445, 20), (1465, 24), (1485, 13), (1510, 19),
       (1530, 20), (1550, 12), (1575, 17), (1595, 24), (1615, 13), (1640, 18), (1660, 20), (1680, 14),
       (1705, 20), (1725, 18), (1745, 12), (1770, 21), (1790, 14), (1810, 20), (1835, 22), (1855, 16),
       (1875, 20), (1900, 13), (1920, 18), (1940, 23), (1965, 14), (1985, 20), (2005, 18), (2030, 13),
       (2050, 17), (2070, 20), (2095, 13), (2115, 24), (2135, 17), (2160, 13), (2180, 20), (2200, 17),
       (2225, 13), (2245, 23), (2265, 14), (2290, 20), (2310, 22), (2335, 13), (2355, 20), (2375, 18),
       (2400, 14), (2420, 22), (2440, 15), (2465, 20), (2485, 13)]
G6 = [(10, 16), (35, 12), (55, 19), (75, 14), (100, 17), (120, 12), (145, 21), (165, 15), (190, 18),
      (210, 13), (230, 22), (255, 16), (275, 19), (295, 14), (320, 20), (340, 13), (360, 17), (385, 21),
      (405, 15), (425, 19), (450, 12), (470, 17), (490, 21), (515, 14), (535, 18), (555, 23), (580, 15),
      (600, 19), (620, 13), (645, 17), (665, 21), (685, 14), (710, 19), (730, 12), (750, 17), (775, 22),
      (795, 15), (815, 19), (840, 13), (860, 18), (880, 22), (905, 15), (925, 20), (945, 13), (970, 18),
      (990, 23), (1010, 16), (1035, 20), (1055, 26), (1075, 14), (1100, 19), (1120, 23), (1140, 16),
      (1165, 21), (1185, 13), (1205, 18), (1230, 24), (1250, 16), (1270, 20), (1295, 14), (1315, 19),
      (1335, 23), (1360, 16), (1380, 20), (1400, 13), (1425, 18), (1445, 22), (1465, 15), (1490, 20),
      (1510, 24), (1530, 16), (1555, 20), (1575, 13), (1595, 18), (1620, 23), (1640, 16), (1660, 20),
      (1685, 13), (1705, 19), (1725, 23), (1750, 15), (1770, 20), (1790, 24), (1815, 16), (1835, 20),
      (1855, 13), (1880, 19), (1900, 23), (1920, 16), (1945, 21), (1965, 14), (1985, 19), (2010, 24),
      (2030, 16), (2050, 20), (2075, 13), (2095, 19), (2115, 23), (2140, 15), (2160, 20), (2180, 25),
      (2205, 17), (2225, 21), (2245, 13), (2270, 19), (2290, 23), (2310, 16), (2335, 20), (2355, 13),
      (2375, 18), (2400, 24), (2420, 16), (2440, 21), (2465, 14), (2485, 19), (2495, 23),
      (15, 8), (166, 8), (346, 8), (467, 8), (617, 8), (768, 8), (979, 8), (1190, 8), (1431, 8), (1611, 8),
      (1822, 8), (1943, 8), (2063, 8), (2214, 8), (2395, 8),
      (407, 3), (422, 3), (1069, 3), (1084, 3), (1702, 3), (1717, 3), (2154, 3), (2289, 3)]
G6X = [(0, 13), (25, 18), (45, 15), (65, 11), (90, 20), (110, 16), (135, 13), (155, 18), (180, 12),
       (200, 20), (220, 15), (245, 12), (265, 21), (285, 17), (305, 12), (330, 16), (350, 19), (370, 14),
       (395, 17), (415, 12), (440, 19), (460, 14), (480, 20), (500, 16), (525, 12), (545, 21), (570, 13),
       (590, 17), (610, 22), (635, 12), (655, 19), (675, 16), (695, 23), (720, 14), (740, 20), (760, 13),
       (785, 18), (805, 22), (825, 14), (850, 20), (870, 12), (890, 18), (915, 24), (935, 17), (955, 22),
       (980, 13), (1000, 20), (1020, 14), (1045, 17), (1065, 22), (1085, 18), (1110, 13), (1130, 20),
       (1150, 25), (1175, 17), (1195, 22), (1215, 12), (1240, 20), (1260, 14), (1280, 23), (1305, 18),
       (1325, 13), (1345, 20), (1370, 24), (1390, 17), (1410, 22), (1435, 13), (1455, 19), (1475, 24),
       (1500, 14), (1520, 20), (1540, 18), (1565, 23), (1585, 14), (1605, 21), (1630, 12), (1650, 24),
       (1670, 17), (1695, 21), (1715, 13), (1740, 19), (1760, 23), (1780, 12), (1800, 20), (1825, 22),
       (1845, 17), (1865, 21), (1890, 14), (1910, 20), (1930, 25), (1955, 17), (1975, 21), (1995, 13),
       (2020, 20), (2040, 22), (2060, 14), (2085, 24), (2105, 17), (2125, 20), (2150, 13), (2170, 22),
       (2190, 17), (2215, 24), (2235, 14), (2255, 20), (2280, 17), (2300, 21), (2320, 12), (2345, 23),
       (2365, 17), (2390, 21), (2410, 13), (2430, 20), (2455, 24), (2475, 17), (2490, 13)]

RASTER_XTICKS = [0, 500, 1000, 1500, 2000, 2500]
FS_BAND = {'b': 6.5, 'c': 7, 'd': 7.5, 'e': 9, 'f': 8.5, 'g': 9.5}
Y_MAX = {'b': 36, 'c': 40, 'd': 48, 'e': 48, 'f': 43, 'g': 29}
Y_TICKS = {'b': [0, 20], 'c': [0, 20], 'd': [0, 20, 40], 'e': [0, 20, 40], 'f': [0, 20, 40], 'g': [0, 10, 20]}
TITLES = {'b': 'Experiment 1', 'c': 'Experiment 2', 'd': 'Experiment 3',
          'e': 'Experiment 4', 'f': 'Experiment 5', 'g': 'Experiment 6'}
ROWS = {'b': [B1, B2, B3, B4, B5, B6], 'c': [C1, C2, C3, C4, C5, C6], 'd': [D1, D2, D3, D4, D5, D6],
        'e': [E1, E2, E3, E4, E5, E6], 'f': [F1, F2, F3, F4, F5, F6],
        'g': [G1 + G1X, G2 + G2X, G3 + G3X, G4 + G4X, G5 + G5X, G6 + G6X]}

# ---------------- layout geometry (pixels) ----------------
SANS = 'Liberation Sans, Arial, sans-serif'
SERIF = 'DejaVu Serif, serif'
TOP_BOTTOMS = [569, 620.5, 672, 723, 774, 825]
BOT_BOTTOMS = [960, 1011, 1062, 1113, 1165, 1216]
ROW_H = 37
GEOM = {  # axis left, axis right, bottoms, letter x, title x, title y, neuron-label x
    'b': (43, 322, TOP_BOTTOMS, 12, 50, 493, 18),
    'c': (380, 658, TOP_BOTTOMS, 348, 380, 493, 353),
    'd': (718, 995, TOP_BOTTOMS, 682, 718, 493, 695),
    'e': (43, 322, BOT_BOTTOMS, 12, 43, 881, 18),
    'f': (380, 658, BOT_BOTTOMS, 348, 380, 881, 353),
    'g': (718, 995, BOT_BOTTOMS, 683, 718, 881, 695),
}


def fx(p):
    return p / W


def fy(p):
    return 1 - p / H


fig = go.Figure()
layout = dict(width=W, height=H, margin=dict(l=0, r=0, t=0, b=0),
              paper_bgcolor='white', plot_bgcolor='rgba(0,0,0,0)', showlegend=False,
              font=dict(family=SANS, color='#111'))
shapes = []
annotations = []

# ---------------- Panel a ----------------
fig.add_trace(go.Scatter(x=RS_X, y=RS_Y, mode='markers', name='RS', cliponaxis=False,
                         marker=dict(color='#0000FF', size=9, line=dict(width=0)),
                         xaxis='x', yaxis='y'))
fig.add_trace(go.Scatter(x=FS_X, y=FS_Y, mode='markers', name='FS', cliponaxis=False,
                         marker=dict(color='#FF0000', size=9, line=dict(width=0)),
                         xaxis='x', yaxis='y'))
fig.add_trace(go.Scatter(x=MEAN_X, y=MEAN_Y, mode='lines+markers', showlegend=False, cliponaxis=False,
                         line=dict(color='black', width=7),
                         marker=dict(color='black', size=13, symbol='x'),
                         error_y=dict(type='data', array=MEAN_ERR, color='black', thickness=5, width=6),
                         xaxis='x', yaxis='y'))
layout['xaxis'] = dict(domain=[fx(68), fx(357)], anchor='y', range=[0.5, 6.5], tickvals=A_XTICKS,
                       ticks='inside', ticklen=5, tickcolor='black', showline=True, linecolor='#333',
                       linewidth=1, showgrid=False, zeroline=False,
                       tickfont=dict(size=20, family=SANS, color='#111'))
layout['yaxis'] = dict(domain=[fy(387), fy(76)], anchor='x', range=[0, 15], tickvals=A_YTICKS,
                       ticks='inside', ticklen=5, tickcolor='black', showline=True, linecolor='black',
                       linewidth=1, showgrid=False, zeroline=False,
                       tickfont=dict(size=20, family=SANS, color='#111'))
# legend box drawn by hand to match the reference geometry
shapes.append(dict(type='rect', xref='paper', yref='paper', x0=fx(75), x1=fx(162), y0=fy(138), y1=fy(82),
                   line=dict(color='black', width=1), fillcolor='white', layer='above'))
for i, (lab, col) in enumerate(zip(LEGEND_LABELS, LEGEND_COLORS)):
    yc = 97 + 26 * i
    annotations.append(dict(text='\u25CF', x=fx(103), y=fy(yc), xref='paper', yref='paper', showarrow=False,
                            xanchor='center', yanchor='middle',
                            font=dict(family='DejaVu Sans', size=13, color=col)))
    annotations.append(dict(text=lab, x=fx(126), y=fy(yc), xref='paper', yref='paper', showarrow=False,
                            xanchor='left', yanchor='middle', font=dict(family=SANS, size=21, color='#111')))
annotations.append(dict(text='<b>a</b>', x=fx(10), y=fy(12), xref='paper', yref='paper', showarrow=False,
                        xanchor='left', yanchor='middle', font=dict(family=SERIF, size=27, color='black')))
annotations.append(dict(text='Spontaneous firing rate (Hz)', x=fx(22), y=fy(232), xref='paper', yref='paper',
                        showarrow=False, textangle=-90, xanchor='center', yanchor='middle',
                        font=dict(size=21, family=SANS, color='#111')))
annotations.append(dict(text='experiment #', x=fx(213), y=fy(427), xref='paper', yref='paper',
                        showarrow=False, xanchor='center', yanchor='middle',
                        font=dict(size=21, family=SANS, color='#111')))
annotations.append(dict(text='Fentanyl \u2192 Urethane', x=fx(212), y=fy(453), xref='paper', yref='paper',
                        showarrow=False, xanchor='center', yanchor='middle',
                        font=dict(size=21, family=SANS, color='#111')))

# ---------------- Raster panels ----------------
idx = 2
for key in ['b', 'c', 'd', 'e', 'f', 'g']:
    left, right, bottoms, lx, tx, ty, nx = GEOM[key]
    annotations.append(dict(text='<b>' + key + '</b>', x=fx(lx), y=fy(ty), xref='paper', yref='paper',
                            showarrow=False, xanchor='left', yanchor='middle',
                            font=dict(family=SERIF, size=28, color='black')))
    annotations.append(dict(text='<b>' + TITLES[key] + '</b>', x=fx(tx), y=fy(ty), xref='paper', yref='paper',
                            showarrow=False, xanchor='left', yanchor='middle',
                            font=dict(family=SERIF, size=25, color='black')))
    for r, pts in enumerate(ROWS[key]):
        bottom = bottoms[r]
        xs = [p[0] for p in pts]
        ys = [p[1] for p in pts]
        xa, ya = 'x%d' % idx, 'y%d' % idx
        fig.add_trace(go.Scatter(x=xs, y=ys, mode='markers', showlegend=False, cliponaxis=False,
                                 marker=dict(color='black', size=5.5, line=dict(width=0)),
                                 xaxis=xa, yaxis=ya))
        last = (r == len(ROWS[key]) - 1)
        layout['xaxis%d' % idx] = dict(domain=[fx(left), fx(right)], anchor=ya, range=[0, 2500],
                                       tickvals=RASTER_XTICKS, showticklabels=last, ticks='outside' if last else '',
                                       ticklen=2, tickcolor='#444', showline=True, linecolor='#555', linewidth=1,
                                       showgrid=False, zeroline=False,
                                       tickfont=dict(size=10.5, family=SANS, color='#222'))
        layout['yaxis%d' % idx] = dict(domain=[fy(bottom), fy(bottom - ROW_H)], anchor=xa,
                                       range=[0, Y_MAX[key]], tickvals=Y_TICKS[key], ticks='outside',
                                       ticklen=2, tickcolor='#444', showline=True, linecolor='#7a7a7a',
                                       linewidth=2, showgrid=False, zeroline=False,
                                       tickfont=dict(size=10.5, family=SANS, color='#222'))
        shapes.append(dict(type='rect', xref=xa, yref=ya, x0=0, x1=2500, y0=0, y1=FS_BAND[key],
                           fillcolor='#FDE3E3', line=dict(width=0), layer='below'))
        if r == 0:
            annotations.append(dict(text='neuron', x=fx(nx), y=fy(bottom - ROW_H / 2), xref='paper',
                                    yref='paper', showarrow=False, textangle=-90, xanchor='center',
                                    yanchor='middle', font=dict(size=10, family=SANS, color='#222')))
        if last:
            annotations.append(dict(text='Time (ms)', x=fx((left + right) / 2), y=fy(bottom + 14),
                                    xref='paper', yref='paper', showarrow=False, xanchor='center',
                                    yanchor='top', font=dict(size=10.5, family=SANS, color='#222')))
        idx += 1

layout['shapes'] = shapes
layout['annotations'] = annotations
fig.update_layout(**layout)
fig.write_html('out.html')
